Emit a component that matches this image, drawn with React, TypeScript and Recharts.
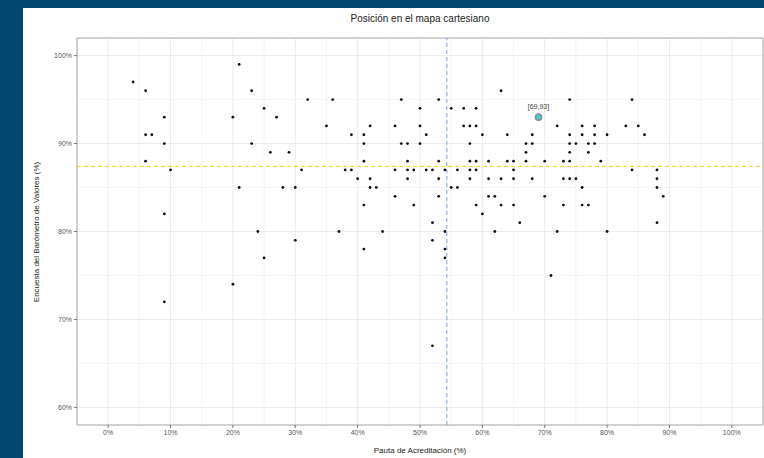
import React from 'react';
import {
  ScatterChart,
  Scatter,
  XAxis,
  YAxis,
  CartesianGrid,
  ReferenceLine,
  ReferenceArea,
  LabelList,
} from 'recharts';

// Pauta de Acreditación (%)
const acreditacion: number[] = [
  4, 6, 6, 6, 7, 9, 9, 9, 9, 10,
  20, 20, 21, 21, 23, 23, 24, 25, 25, 26, 27, 28, 29, 30, 30, 31, 32,
  35, 36, 37, 38, 39, 39, 40,
  41, 41, 41, 41, 41, 42, 42, 42, 43, 44,
  46, 46, 46, 47, 47, 48, 48, 48, 48, 49, 49,
  50, 50, 50, 51, 51, 52, 52, 52, 52, 53, 53, 53, 53,
  54, 54, 54, 54, 55, 55, 56, 56, 57, 57, 58, 58, 58, 58, 58,
  59, 59, 59, 59, 59, 60, 60, 61, 61, 61, 62, 62, 63, 63, 63,
  64, 64, 65, 65, 65, 65, 66, 67, 67, 67, 68, 68, 68,
  70, 70, 71, 72, 72, 73, 73, 73, 74, 74, 74, 74, 74, 74, 75, 75, 76, 76, 76, 76, 77, 77, 77, 78, 78, 78, 79, 80, 80,
  83, 84, 84, 85, 86, 88, 88, 88, 88, 89,
];

// Encuesta del Barómetro de Valores (%)
const barometro: number[] = [
  97, 96, 91, 88, 91, 93, 90, 82, 72, 87,
  93, 74, 99, 85, 96, 90, 80, 94, 77, 89, 93, 85, 89, 85, 79, 87, 95,
  92, 95, 80, 87, 91, 87, 86,
  91, 90, 88, 83, 78, 92, 86, 85, 85, 80,
  92, 87, 84, 95, 90, 90, 88, 87, 86, 87, 83,
  94, 92, 90, 91, 87, 87, 81, 79, 67, 95, 88, 86, 84,
  87, 80, 78, 77, 94, 85, 87, 85, 94, 92, 92, 90, 88, 87, 86,
  94, 92, 88, 87, 83, 91, 82, 88, 86, 84, 84, 80, 96, 86, 83,
  91, 88, 88, 87, 86, 83, 81, 90, 89, 88, 91, 90, 86,
  88, 84, 75, 92, 80, 88, 86, 83, 95, 91, 90, 89, 88, 86, 90, 86, 92, 91, 85, 83, 90, 89, 83, 92, 91, 90, 88, 91, 80,
  92, 95, 87, 92, 91, 87, 86, 85, 81, 84,
];

const highlightX: number[] = [69];
const highlightY: number[] = [93];

const xTicks: number[] = [0, 10, 20, 30, 40, 50, 60, 70, 80, 90, 100];
const yTicks: number[] = [60, 70, 80, 90, 100];
const xMinor: number[] = [5, 15, 25, 35, 45, 55, 65, 75, 85, 95];
const yMinor: number[] = [65, 75, 85, 95];

const meanAcreditacion = 54.3;
const meanBarometro = 87.4;

const points = acreditacion.map((x, i) => ({ x, y: barometro[i] }));
const highlight = highlightX.map((x, i) => ({
  x,
  y: highlightY[i],
  label: `[${x},${highlightY[i]}]`,
}));

const FONT = '"Liberation Sans", Arial, Helvetica, sans-serif';

const Dot = (props: any) => (
  <circle cx={props.cx} cy={props.cy} r={1.4} fill="#111" />
);

const HighlightDot = (props: any) => (
  <circle
    cx={props.cx}
    cy={props.cy}
    r={3.1}
    fill="#3fd3cf"
    stroke="#8c8c8c"
    strokeWidth={1.5}
  />
);

export default function App() {
  return (
    <div
      style={{
        position: 'absolute',
        left: 0,
        top: 0,
        width: 764,
        height: 458,
        background: '#03466e',
        overflow: 'hidden',
        fontFamily: FONT,
      }}
    >
      <div
        style={{
          position: 'absolute',
          left: 23,
          top: 8,
          width: 741,
          height: 450,
          background: '#ffffff',
        }}
      />
      <div style={{ position: 'absolute', left: 0, top: 0 }}>
        <ScatterChart
          width={764}
          height={458}
          margin={{ top: 38, right: 1, bottom: 13, left: 22 }}
        >
          <CartesianGrid stroke="#ebebeb" strokeWidth={1} />
          {xMinor.map((v) => (
            <ReferenceLine key={'xm' + v} x={v} stroke="#f0f0f0" strokeWidth={0.8} />
          ))}
          {yMinor.map((v) => (
            <ReferenceLine key={'ym' + v} y={v} stroke="#f0f0f0" strokeWidth={0.8} />
          ))}
          <XAxis
            type="number"
            dataKey="x"
            domain={[-5, 105]}
            ticks={xTicks}
            allowDataOverflow
            height={20}
            tickSize={3}
            tickMargin={2}
            axisLine={false}
            tickLine={{ stroke: '#555', strokeWidth: 0.8 }}
            tick={{ fill: '#555', fontSize: 7, fontFamily: FONT }}
            tickFormatter={(v: number) => `${v}%`}
          />
          <YAxis
            type="number"
            dataKey="y"
            domain={[58, 102]}
            ticks={yTicks}
            allowDataOverflow
            width={55}
            tickSize={3}
            tickMargin={2}
            axisLine={false}
            tickLine={{ stroke: '#555', strokeWidth: 0.8 }}
            tick={{ fill: '#555', fontSize: 7, fontFamily: FONT }}
            tickFormatter={(v: number) => `${v}%`}
          />
          <ReferenceArea
            x1={-5}
            x2={105}
            y1={58}
            y2={102}
            fill="none"
            fillOpacity={0}
            stroke="#aaaaaa"
            strokeWidth={1}
          />
          <Scatter data={points} shape={Dot} isAnimationActive={false} />
          <ReferenceLine
            x={meanAcreditacion}
            stroke="#6f9ff0"
            strokeWidth={1}
            strokeDasharray="4 3"
          />
          <ReferenceLine
            y={meanBarometro}
            stroke="#f7d417"
            strokeWidth={1}
            strokeDasharray="4 3"
          />
          <Scatter data={highlight} shape={HighlightDot} isAnimationActive={false}>
            <LabelList
              dataKey="label"
              position="top"
              offset={4}
              style={{ fill: '#444', fontSize: 7, fontFamily: FONT }}
            />
          </Scatter>
        </ScatterChart>
      </div>
      <div
        style={{
          position: 'absolute',
          left: 77,
          width: 686,
          top: 12,
          textAlign: 'center',
          fontSize: 10,
          color: '#222',
          lineHeight: '14px',
        }}
      >
        Posición en el mapa cartesiano
      </div>
      <div
        style={{
          position: 'absolute',
          left: 77,
          width: 686,
          top: 445,
          textAlign: 'center',
          fontSize: 8,
          color: '#222',
          lineHeight: '12px',
        }}
      >
        Pauta de Acreditación (%)
      </div>
      <div
        style={{
          position: 'absolute',
          left: 37 - 150,
          top: 232 - 6,
          width: 300,
          height: 12,
          lineHeight: '12px',
          textAlign: 'center',
          fontSize: 8,
          color: '#222',
          transform: 'rotate(-90deg)',
          transformOrigin: '150px 6px',
        }}
      >
        Encuesta del Barómetro de Valores (%)
      </div>
    </div>
  );
}
